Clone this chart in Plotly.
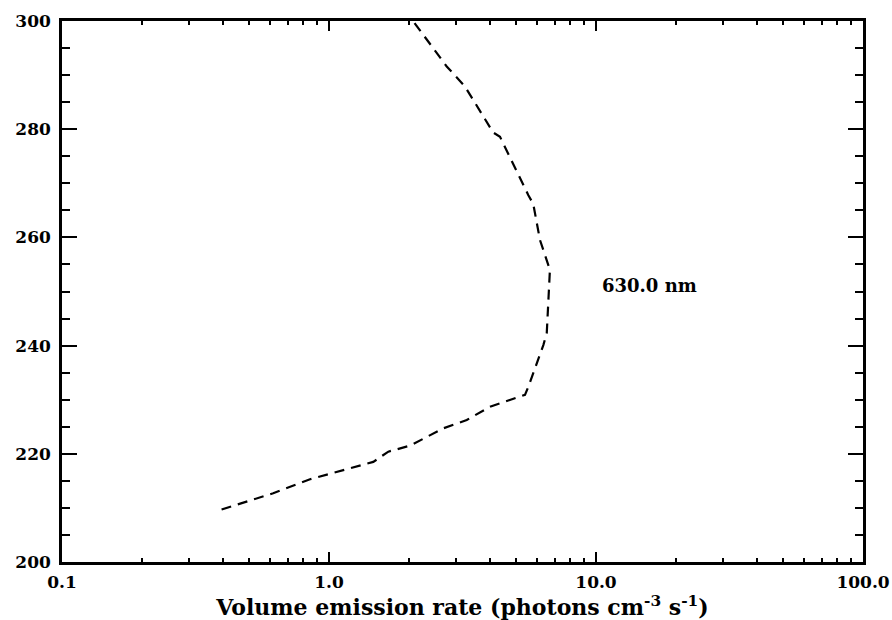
import plotly.graph_objects as go

# Volume emission rate profile (630.0 nm)
emission_rate = [0.396, 0.618, 0.849, 1.465, 1.668, 2.01, 2.68, 3.28, 4.01, 5.42, 5.58,
                 6.35, 6.54, 6.72, 6.72, 6.17, 5.82, 5.58, 4.37, 4.12, 3.47, 3.23, 2.76, 2.07, 1.98]
altitude = [209.7, 212.7, 215.3, 218.5, 220.4, 221.5, 224.7, 226.25, 228.7, 230.9, 232.4,
            240.1, 242.3, 252.1, 254.0, 259.5, 266.2, 267.8, 278.6, 279.4, 285.4, 287.9, 291.6, 300.0, 301.2]

x_tickvals = [0.1, 1.0, 10.0, 100.0]
x_ticktext = ["0.1", "1.0", "10.0", "100.0"]
x_minor = [m * 10.0 ** e for e in (-1, 0, 1) for m in range(2, 10)]
y_tickvals = [200, 220, 240, 260, 280, 300]

label_text = "630.0 nm"
label_x = 10.35
label_y = 251.2

FONT = dict(family="DejaVu Serif", size=17, color="black", weight="bold")
TITLE_FONT = dict(family="DejaVu Serif", size=22, color="black", weight="bold")
LABEL_FONT = dict(family="DejaVu Serif", size=18, color="black", weight="bold")

fig = go.Figure()
fig.add_trace(go.Scatter(
    x=emission_rate, y=altitude, mode="lines",
    line=dict(color="black", width=2.2, dash="10px,7px"),
    showlegend=False, hoverinfo="skip",
))

fig.add_annotation(x=1.015, y=label_y, xref="x", yref="y", text=label_text,
                   showarrow=False, xanchor="left", yanchor="middle", font=LABEL_FONT)

fig.update_xaxes(
    type="log", range=[-1, 2], automargin=False,
    tickvals=x_tickvals, ticktext=x_ticktext, ticklabelstandoff=3,
    ticks="inside", ticklen=10, tickwidth=2, tickcolor="black",
    minor=dict(tickvals=x_minor, ticks="inside", ticklen=4, tickwidth=2, tickcolor="black", showgrid=False),
    showline=True, linewidth=2.5, linecolor="black", mirror="allticks",
    showgrid=False, zeroline=False, tickfont=FONT,
    title=dict(text="Volume emission rate (photons cm<sup>-3</sup> s<sup>-1</sup>)", font=TITLE_FONT, standoff=1),
)
fig.update_yaxes(
    range=[200, 300], automargin=False,
    tickvals=y_tickvals, ticklabelstandoff=5,
    ticks="inside", ticklen=15, tickwidth=2, tickcolor="black",
    minor=dict(dtick=5, ticks="inside", ticklen=8, tickwidth=2, tickcolor="black", showgrid=False),
    showline=True, linewidth=2.5, linecolor="black", mirror="allticks",
    showgrid=False, zeroline=False, tickfont=FONT,
)

fig.update_layout(
    width=892, height=620,
    margin=dict(l=62, r=29, t=21, b=58),
    plot_bgcolor="white", paper_bgcolor="white",
    font=FONT,
)

fig.write_html("out.html")
